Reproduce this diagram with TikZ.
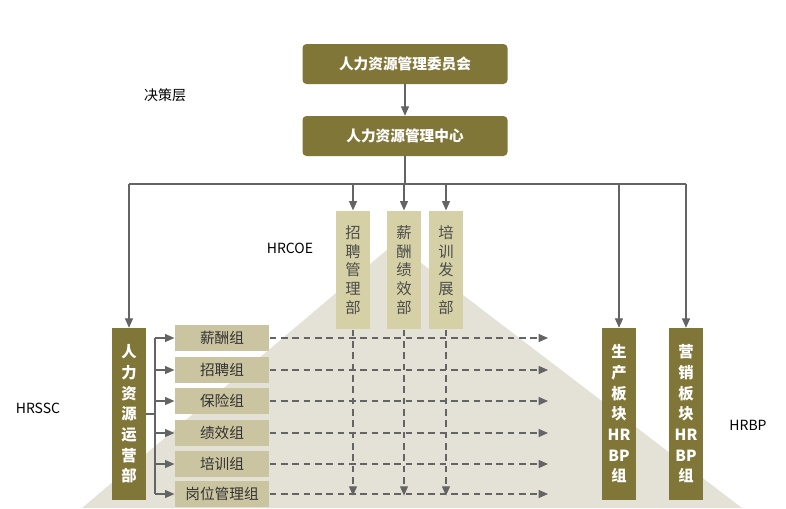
\documentclass[tikz,border=0pt]{standalone}
\usepackage{fontspec}
\setmainfont{Noto Sans CJK SC}
\usetikzlibrary{arrows.meta, calc, positioning}
\definecolor{olivedark}{RGB}{128,118,56}
\definecolor{olivelight}{RGB}{214,208,166}
\definecolor{grouptan}{RGB}{202,196,160}
\definecolor{pyramidgray}{RGB}{228,226,215}
\definecolor{linegray}{RGB}{100,100,100}

\begin{document}
\begin{tikzpicture}[x=0.75pt, y=-0.75pt, >={Triangle[length=7pt,width=6pt]},
    darkbox/.style={fill=olivedark, text=white, rounded corners=3pt, minimum width=153.75pt, minimum height=30pt, font=\bfseries\fontsize{11}{12}\selectfont},
    coebox/.style={fill=olivelight, text=black!70, minimum width=25.5pt, minimum height=89pt, align=center, font=\fontsize{11.5}{14}\selectfont, inner sep=0pt},
    tallbox/.style={fill=olivedark, text=white, minimum width=25.5pt, minimum height=129pt, align=center, font=\bfseries\fontsize{11.5}{15.5}\selectfont, inner sep=0pt},
    groupbox/.style={fill=grouptan, text=black!80, minimum width=71pt, minimum height=20pt, inner sep=0pt, font=\fontsize{11}{12}\selectfont},
    link/.style={draw=linegray, thick, ->},
    dashlink/.style={draw=linegray, thick, dash pattern=on 5pt off 3.5pt, ->},
    tag/.style={font=\fontsize{10.5}{12}\selectfont, text=black}]
    \useasboundingbox (0,0) rectangle (786,508);
    % pyramid
    \fill[pyramidgray] (395,243) -- (742,508) -- (82,508) -- cycle;

    % decision level
    \node[darkbox] (board) at (405,64) {人力资源管理委员会};
    \node[darkbox] (center) at (405,136) {人力资源管理中心};
    \node[tag] (decide) at (165,95) {决策层};
    \draw[link] (board) -- (center);

    % HRCOE
    \node[coebox] (recruitdept) at (353,270) {招\\聘\\管\\理\\部};
    \node[coebox] (paydept) at (404,270) {薪\\酬\\绩\\效\\部};
    \node[coebox] (traindept) at (446,270) {培\\训\\发\\展\\部};
    \node[tag] (coe) at (290,248) {HRCOE};

    % HRSSC and HRBP
    \node[tallbox] (ops) at (129,414) {人\\力\\资\\源\\运\\营\\部};
    \node[tallbox] (prodbp) at (619,414) {生\\产\\板\\块\\HR\\BP\\组};
    \node[tallbox] (salesbp) at (686,414) {营\\销\\板\\块\\HR\\BP\\组};
    \node[tag] (ssc) at (38,408) {HRSSC};
    \node[tag] (bp) at (748,425) {HRBP};

    % feed line from center
    \coordinate (bus) at (405,184);
    \draw[draw=linegray, thick] (center) -- (bus);
    \draw[draw=linegray, thick] (ops.north |- bus) -- (salesbp.north |- bus);
    \foreach \t in {ops, recruitdept, paydept, traindept, prodbp, salesbp}
        \draw[link] (\t.north |- bus) -- (\t.north);

    % groups
    \coordinate (fork) at (155,414);
    \draw[draw=linegray, thick] (ops.east |- fork) -- (fork);
    \foreach \g/\y/\txt in {g1/338/薪酬组, g2/370/招聘组, g3/401/保险组, g4/433/绩效组, g5/464/培训组, g6/494/岗位管理组} {
        \node[groupbox] (\g) at (222,\y) {\txt};
        \draw[link] (155,\y) -- (\g.west);
        \coordinate (\g end) at (548,\y);
        \draw[dashlink] (\g.east) -- (\g end);
    }
    \draw[draw=linegray, thick] (155,338) -- (155,494);

    % dashed drops from COE
    \foreach \t in {recruitdept, paydept, traindept}
        \draw[dashlink] (\t.south) -- ++(0,166);
\end{tikzpicture}
\end{document}
